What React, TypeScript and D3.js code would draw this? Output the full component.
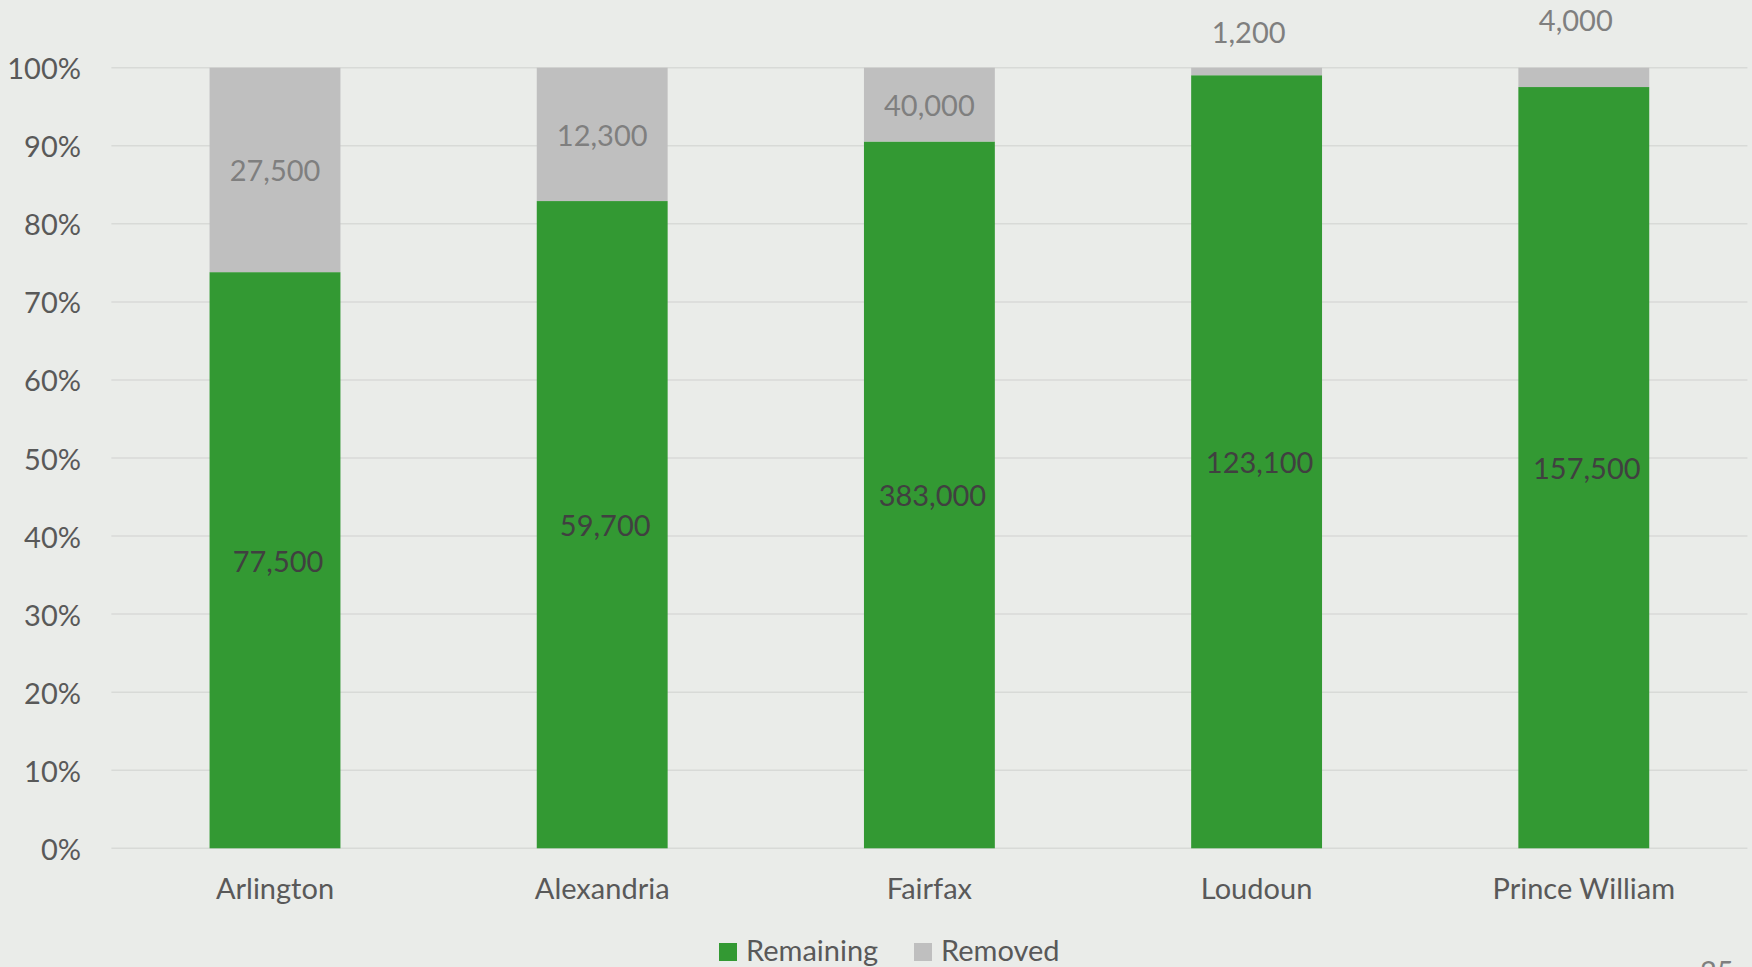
import React from "react";
import * as d3 from "d3";

const categories = ["Arlington", "Alexandria", "Fairfax", "Loudoun", "Prince William"];
const remaining = [77500, 59700, 383000, 123100, 157500];
const removed = [27500, 12300, 40000, 1200, 4000];
const seriesNames = ["Remaining", "Removed"];
const yTicks = [0, 0.1, 0.2, 0.3, 0.4, 0.5, 0.6, 0.7, 0.8, 0.9, 1.0];
const pageNumber = "25";

// label placement overrides for tiny segments (moved above the bar)
const removedLabelAbove: Record<string, number> = { Loudoun: 31, "Prince William": 19 };

const W = 1752;
const H = 967;
const BG = "#EAECE9";
const GREEN = "#339933";
const GRAY = "#BFBFBF";
const FONT = "Lato, 'Open Sans', sans-serif";
const FS = 29;

export default function App() {
  const x = d3.scaleBand<string>().domain(categories).range([111.4, 1747.4]).paddingInner(0.6).paddingOuter(0.3);
  const y = d3.scaleLinear().domain([0, 1]).range([848.3, 67.7]);
  const fmt = d3.format(",");
  const pct = d3.format(".0%");

  const rows = categories.map((c, i) => {
    const total = remaining[i] + removed[i];
    return { c, rem: remaining[i], rmv: removed[i], fRem: remaining[i] / total };
  });

  return (
    <svg width={W} height={H} style={{ position: "absolute", left: 0, top: 0 }} fontFamily={FONT}>
      <rect x={0} y={0} width={W} height={H} fill={BG} />
      {yTicks.map((t) => (
        <g key={t}>
          <line x1={111.4} x2={1747.4} y1={y(t)} y2={y(t)} stroke="#D8DAD7" strokeWidth={1.5} />
          <text x={81} y={y(t)} textAnchor="end" dominantBaseline="central" fontSize={FS} fill="#595959">
            {pct(t)}
          </text>
        </g>
      ))}
      {rows.map((r) => {
        const bx = x(r.c)!;
        const bw = x.bandwidth();
        const cx = bx + bw / 2;
        const above = removedLabelAbove[r.c];
        return (
          <g key={r.c}>
            <rect x={bx} y={y(r.fRem)} width={bw} height={y(0) - y(r.fRem)} fill={GREEN} />
            <rect x={bx} y={y(1)} width={bw} height={y(r.fRem) - y(1)} fill={GRAY} />
            <text x={cx + 3} y={y(r.fRem / 2)} textAnchor="middle" dominantBaseline="central" fontSize={FS} fill="#404040">
              {fmt(r.rem)}
            </text>
            <text
              x={above !== undefined ? cx - 8 : cx}
              y={above !== undefined ? above : y((r.fRem + 1) / 2)}
              textAnchor="middle"
              dominantBaseline="central"
              fontSize={FS}
              fill="#7F7F7F"
            >
              {fmt(r.rmv)}
            </text>
            <text x={cx} y={899} textAnchor="middle" fontSize={FS} fill="#595959">
              {r.c}
            </text>
          </g>
        );
      })}
      <g>
        <rect x={719} y={943} width={18} height={18} fill={GREEN} />
        <text x={746} y={961} fontSize={FS} fill="#595959">{seriesNames[0]}</text>
        <rect x={914} y={943} width={18} height={18} fill={GRAY} />
        <text x={941} y={961} fontSize={FS} fill="#595959">{seriesNames[1]}</text>
      </g>
      <text x={1700} y={982} fontSize={FS} fill="#7F7F7F">{pageNumber}</text>
    </svg>
  );
}
